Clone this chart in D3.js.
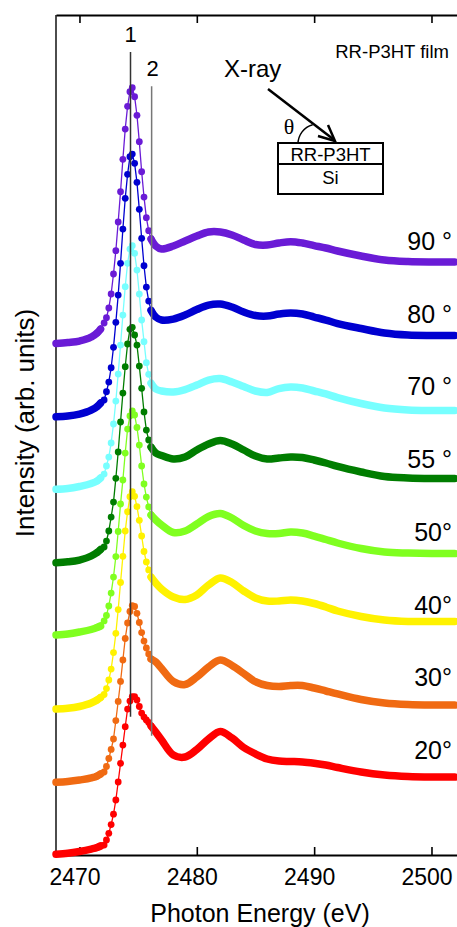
<!DOCTYPE html>
<html>
<head>
<meta charset="utf-8">
<script src="https://cdn.jsdelivr.net/npm/d3@7"></script>
<style>
body { margin: 0; background: #fff; }
text { font-family: 'Liberation Sans', Arial, sans-serif; fill: #000; }
</style>
</head>
<body>
<div id="chart"></div>
<script>
// photon energies (eV): pre-edge, edge (dotted region), post-edge
const energy = [2468, 2469, 2470, 2471, 2471.5, 2471.8,
  2472.1, 2472.3, 2472.5, 2472.7, 2472.9, 2473.1, 2473.3, 2473.5, 2473.7, 2473.9,
  2474.1, 2474.3, 2474.5, 2474.7, 2474.9, 2475.1, 2475.3, 2475.5, 2475.7, 2475.9, 2476.1,
  2476.5, 2477, 2478, 2479, 2480, 2481, 2482, 2483, 2484, 2485, 2486, 2487, 2488,
  2489, 2490, 2491, 2492, 2494, 2496, 2498, 2500, 2502];

const angleLabels = ['20°', '30°', '40°', '50°', '55 °', '70 °', '80 °', '90 °'];
const colors = ['#ff0000', '#f06a12', '#fff200', '#80ff20', '#007d00', '#77ffff', '#0000d0', '#6a1bd6'];
const offsets = [0, 1, 2, 3, 4, 5, 6, 7];

const i20 = [0.010, 0.023, 0.048, 0.082, 0.103, 0.124,
  0.137, 0.206, 0.298, 0.419, 0.561, 0.756, 1.004, 1.261, 1.512, 1.764, 2.007, 2.117, 2.179, 2.177, 2.131, 2.042, 1.952, 1.897, 1.856, 1.822, 1.774,
  1.691, 1.581, 1.375, 1.347, 1.451, 1.595, 1.698, 1.609, 1.478, 1.389, 1.320, 1.292, 1.286, 1.279, 1.261, 1.237, 1.203, 1.141, 1.100, 1.079, 1.072, 1.072];
const i30 = [0.000, 0.011, 0.031, 0.059, 0.086, 0.114,
  0.141, 0.217, 0.327, 0.451, 0.595, 0.849, 1.111, 1.386, 1.681, 1.977, 2.190, 2.348, 2.430, 2.417, 2.323, 2.197, 2.059, 1.942, 1.846, 1.764, 1.695,
  1.654, 1.564, 1.386, 1.344, 1.447, 1.585, 1.681, 1.606, 1.496, 1.383, 1.331, 1.317, 1.331, 1.331, 1.296, 1.255, 1.214, 1.138, 1.090, 1.069, 1.062, 1.062];
const i40 = [0.007, 0.017, 0.042, 0.090, 0.131, 0.166,
  0.207, 0.289, 0.406, 0.557, 0.784, 1.048, 1.375, 1.747, 2.107, 2.455, 2.720, 2.926, 2.995, 2.932, 2.789, 2.602, 2.386, 2.173, 2.030, 1.920, 1.822,
  1.740, 1.657, 1.547, 1.513, 1.575, 1.712, 1.809, 1.747, 1.630, 1.534, 1.492, 1.492, 1.506, 1.492, 1.458, 1.410, 1.355, 1.280, 1.231, 1.211, 1.211, 1.211];
const i50 = [0.025, 0.039, 0.066, 0.101, 0.128, 0.149,
  0.218, 0.293, 0.424, 0.602, 0.822, 1.104, 1.448, 1.826, 2.156, 2.527, 2.857, 3.036, 3.105, 3.050, 2.878, 2.637, 2.349, 2.101, 1.922, 1.785, 1.675,
  1.606, 1.537, 1.434, 1.455, 1.551, 1.654, 1.695, 1.634, 1.530, 1.455, 1.420, 1.420, 1.441, 1.427, 1.386, 1.338, 1.290, 1.214, 1.166, 1.152, 1.145, 1.145];
const i55 = [0.019, 0.031, 0.056, 0.111, 0.159, 0.200,
  0.235, 0.317, 0.455, 0.647, 0.853, 1.179, 1.541, 1.954, 2.352, 2.714, 3.026, 3.228, 3.256, 3.150, 3.012, 2.723, 2.417, 2.092, 1.843, 1.706, 1.609,
  1.527, 1.493, 1.445, 1.472, 1.569, 1.651, 1.699, 1.651, 1.569, 1.486, 1.445, 1.459, 1.472, 1.465, 1.431, 1.390, 1.342, 1.266, 1.204, 1.184, 1.177, 1.177];
const i70 = [0.028, 0.039, 0.067, 0.108, 0.143, 0.184,
  0.238, 0.349, 0.472, 0.665, 0.926, 1.242, 1.613, 2.012, 2.424, 2.814, 3.136, 3.332, 3.378, 3.273, 3.043, 2.713, 2.356, 2.058, 1.769, 1.609, 1.486,
  1.407, 1.380, 1.366, 1.400, 1.462, 1.531, 1.552, 1.504, 1.442, 1.380, 1.359, 1.414, 1.435, 1.421, 1.380, 1.339, 1.290, 1.208, 1.146, 1.119, 1.112, 1.112];
const i80 = [0.026, 0.036, 0.063, 0.118, 0.166, 0.214,
  0.256, 0.370, 0.503, 0.700, 0.980, 1.324, 1.699, 2.135, 2.607, 3.029, 3.359, 3.601, 3.638, 3.510, 3.249, 2.878, 2.479, 2.102, 1.809, 1.617, 1.489,
  1.397, 1.356, 1.369, 1.424, 1.500, 1.562, 1.576, 1.534, 1.466, 1.418, 1.411, 1.438, 1.452, 1.438, 1.397, 1.356, 1.308, 1.239, 1.177, 1.149, 1.143, 1.143];
const i90 = [0.033, 0.047, 0.067, 0.122, 0.177, 0.232,
  0.315, 0.388, 0.521, 0.714, 0.989, 1.309, 1.704, 2.120, 2.566, 2.982, 3.294, 3.495, 3.550, 3.426, 3.171, 2.808, 2.395, 2.047, 1.763, 1.584, 1.470,
  1.374, 1.332, 1.374, 1.442, 1.511, 1.566, 1.566, 1.525, 1.456, 1.394, 1.387, 1.415, 1.433, 1.415, 1.380, 1.346, 1.305, 1.236, 1.181, 1.160, 1.154, 1.154];

const intensities = [i20, i30, i40, i50, i55, i70, i80, i90];

const peakEnergies = [2474.35, 2476.15];
const peakNames = ['1', '2'];
const xTicks = [2470, 2480, 2490, 2500];

const w = 457;
const h = 927;

const svg = d3.select('#chart')
  .append('svg')
  .attr('width', w)
  .attr('height', h);

const x = d3.scaleLinear().domain([2468, 2502.2]).range([56, 457.3]);
const y = d3.scaleLinear().domain([0, 11.55]).range([855, 15]);

// frame: top + bottom axis with inward ticks, plain left line
const xAxisBottom = d3.axisBottom(x).tickValues(xTicks).tickSize(-8).tickSizeOuter(0).tickPadding(0).tickFormat(d3.format('d'));
const xAxisTop = d3.axisTop(x).tickValues(xTicks).tickSize(-8).tickSizeOuter(0).tickFormat('');

const gb = svg.append('g').attr('transform', 'translate(0,' + y(0) + ')').call(xAxisBottom);
gb.select('.domain').attr('stroke-width', 2);
gb.selectAll('.tick line').attr('stroke-width', 1.6);
gb.selectAll('.tick text')
  .attr('font-family', "'Liberation Sans', Arial, sans-serif")
  .attr('font-size', 23)
  .attr('dx', -5)
  .attr('dy', 0)
  .attr('y', 30);

const gt = svg.append('g').attr('transform', 'translate(0,' + y(11.55) + ')').call(xAxisTop);
gt.select('.domain').attr('stroke-width', 2);
gt.selectAll('.tick line').attr('stroke-width', 1.6);

svg.append('line')
  .attr('x1', x(2468)).attr('x2', x(2468))
  .attr('y1', y(0)).attr('y2', y(11.55))
  .attr('stroke', '#000').attr('stroke-width', 1.4);

svg.append('text')
  .attr('x', 260).attr('y', 922)
  .attr('text-anchor', 'middle')
  .attr('font-size', 25)
  .text('Photon Energy (eV)');

svg.append('text')
  .attr('transform', 'translate(34,423) rotate(-90)')
  .attr('text-anchor', 'middle')
  .attr('font-size', 26)
  .text('Intensity (arb. units)');

// spectra
const thick = d3.line().curve(d3.curveCatmullRom.alpha(0.5));
const thickPre = d3.line().curve(d3.curveMonotoneX);
const thin = d3.line();

intensities.forEach(function(vals, k) {
  const pts = energy.map((e, i) => [x(e), y(vals[i] + offsets[k])]);
  const g = svg.append('g');
  g.append('path')
    .attr('d', thin(pts.slice(4, 28)))
    .attr('fill', 'none').attr('stroke', colors[k]).attr('stroke-width', 1.3);
  g.append('path')
    .attr('d', thickPre(pts.slice(0, 6)))
    .attr('fill', 'none').attr('stroke', colors[k]).attr('stroke-width', 7.5)
    .attr('stroke-linecap', 'round').attr('stroke-linejoin', 'round');
  g.append('path')
    .attr('d', thick(pts.slice(26)))
    .attr('fill', 'none').attr('stroke', colors[k]).attr('stroke-width', 7.5)
    .attr('stroke-linecap', 'round').attr('stroke-linejoin', 'round');
  g.selectAll('circle')
    .data(pts.slice(4, 27))
    .enter()
    .append('circle')
    .attr('cx', d => d[0])
    .attr('cy', d => d[1])
    .attr('r', 3.4)
    .attr('fill', colors[k]);

  svg.append('text')
    .attr('x', 452)
    .attr('y', y(offsets[k] + 1.32))
    .attr('text-anchor', 'end')
    .attr('font-size', 25)
    .text(angleLabels[k]);
});

// peak marker lines
const lineTops = [11.04, 10.57];
const lineBottoms = [1.90, 1.64];
peakEnergies.forEach(function(e, i) {
  svg.append('line')
    .attr('x1', x(e)).attr('x2', x(e))
    .attr('y1', y(lineTops[i])).attr('y2', y(lineBottoms[i]))
    .attr('stroke', i === 0 ? '#333' : '#777')
    .attr('stroke-width', 1.5);
  svg.append('text')
    .attr('x', x(e) + (i === 0 ? 0 : 1))
    .attr('y', y(lineTops[i]) - 10)
    .attr('text-anchor', 'middle')
    .attr('font-size', 22)
    .text(peakNames[i]);
});

// inset: geometry sketch
svg.append('text').attr('x', 449).attr('y', 58).attr('text-anchor', 'end').attr('font-size', 18.5).text('RR-P3HT film');
svg.append('text').attr('x', 224).attr('y', 77).attr('font-size', 24).text('X-ray');

svg.append('line')
  .attr('x1', 268).attr('y1', 89).attr('x2', 333).attr('y2', 139)
  .attr('stroke', '#000').attr('stroke-width', 2.5);
svg.append('path')
  .attr('d', 'M318,136 L335,141 L328,125')
  .attr('fill', 'none').attr('stroke', '#000').attr('stroke-width', 2.5)
  .attr('stroke-linejoin', 'miter');

svg.append('path')
  .attr('transform', 'translate(318,144)')
  .attr('d', d3.arc()({innerRadius: 20, outerRadius: 20, startAngle: -Math.PI / 2, endAngle: -Math.PI / 2 + 1.3}))
  .attr('fill', 'none').attr('stroke', '#000').attr('stroke-width', 1.5);
svg.append('text')
  .attr('x', 289).attr('y', 134)
  .attr('text-anchor', 'middle')
  .style('font-family', "'Liberation Serif', 'Times New Roman', serif")
  .attr('font-size', 22)
  .text('θ');

svg.append('rect').attr('x', 278).attr('y', 143).attr('width', 105).attr('height', 21)
  .attr('fill', 'none').attr('stroke', '#000').attr('stroke-width', 2);
svg.append('rect').attr('x', 278).attr('y', 164).attr('width', 105).attr('height', 30)
  .attr('fill', 'none').attr('stroke', '#000').attr('stroke-width', 2);
svg.append('text').attr('x', 330.5).attr('y', 161).attr('text-anchor', 'middle').attr('font-size', 18.5).text('RR-P3HT');
svg.append('text').attr('x', 330.5).attr('y', 184).attr('text-anchor', 'middle').attr('font-size', 18.5).text('Si');
</script>
</body>
</html>
